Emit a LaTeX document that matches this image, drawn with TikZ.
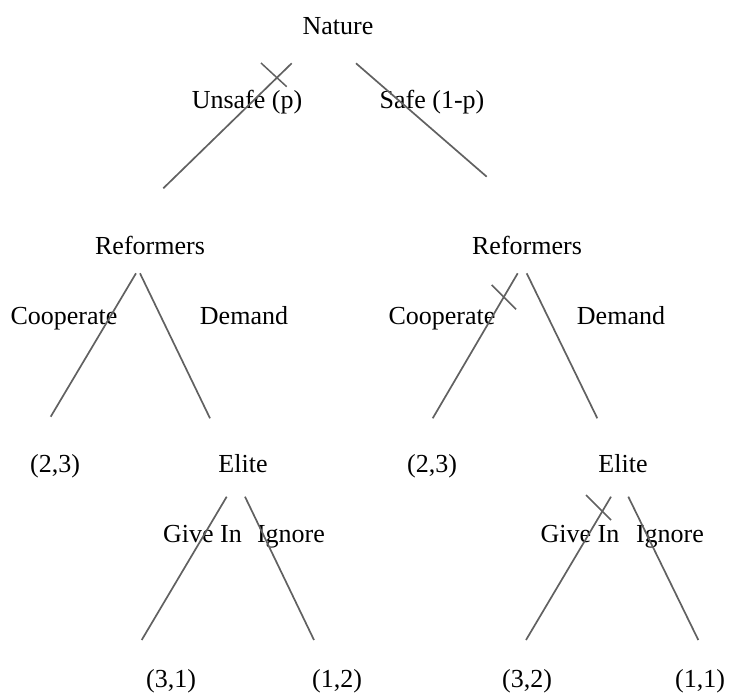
\documentclass[tikz,border=0pt]{standalone}
\usepackage{fontspec}
\setmainfont{Liberation Serif}
\begin{document}
\begin{tikzpicture}[x=1pt,y=-1pt,
  lbl/.style={anchor=base,inner sep=0pt,font=\fontsize{26}{30}\selectfont},
  branch/.style={draw=black!62,line width=1.7pt},
  cut/.style={draw=black!62,line width=1.5pt}]
\useasboundingbox (0,0) rectangle (745,693);
% labels
\node[lbl] (nature) at (338,35) {Nature};
\node[lbl] (unsafe) at (247,108) {Unsafe (p)};
\node[lbl] (safe) at (432,108) {Safe (1-p)};
\node[lbl] (refL) at (150,254) {Reformers};
\node[lbl] (refR) at (527,254) {Reformers};
\node[lbl] (coopL) at (64,324) {Cooperate};
\node[lbl] (demL) at (244,324) {Demand};
\node[lbl] (coopR) at (442,324) {Cooperate};
\node[lbl] (demR) at (621,324) {Demand};
\node[lbl] (pA) at (55,472) {(2,3)};
\node[lbl] (eliteL) at (243,472) {Elite};
\node[lbl] (pB) at (432,472) {(2,3)};
\node[lbl] (eliteR) at (623,472) {Elite};
\node[lbl] (giveL) at (202.5,542) {Give In};
\node[lbl] (ignL) at (291,542) {Ignore};
\node[lbl] (giveR) at (580,542) {Give In};
\node[lbl] (ignR) at (670,542) {Ignore};
\node[lbl] (pC) at (171,687) {(3,1)};
\node[lbl] (pD) at (337,687) {(1,2)};
\node[lbl] (pE) at (527,687) {(3,2)};
\node[lbl] (pF) at (700,687) {\underline{(1,1)}};
% branch end points
\coordinate (u1) at (291.7,63.3); \coordinate (u2) at (163.3,188.3);
\coordinate (s1) at (356,63.3);   \coordinate (s2) at (486.7,176.7);
\coordinate (xu1) at (261,63);    \coordinate (xu2) at (286.7,86.7);
\coordinate (cl1) at (136,273.3); \coordinate (cl2) at (50.7,416.7);
\coordinate (dl1) at (140,273.3); \coordinate (dl2) at (210,418.3);
\coordinate (cr1) at (517.7,273.3); \coordinate (cr2) at (432.7,418.3);
\coordinate (dr1) at (526.7,273.3); \coordinate (dr2) at (597.3,418.3);
\coordinate (xc1) at (491.7,285); \coordinate (xc2) at (516,309.3);
\coordinate (gl1) at (226.7,496.7); \coordinate (gl2) at (141.7,640);
\coordinate (il1) at (245,496.7); \coordinate (il2) at (314,640);
\coordinate (gr1) at (611,496.7); \coordinate (gr2) at (526,640);
\coordinate (ir1) at (628.3,496.7); \coordinate (ir2) at (698.3,640);
\coordinate (xg1) at (586,495); \coordinate (xg2) at (611,520);
% branches
\draw[branch] (u1) -- (u2);
\draw[branch] (s1) -- (s2);
\draw[cut] (xu1) -- (xu2);
\draw[branch] (cl1) -- (cl2);
\draw[branch] (dl1) -- (dl2);
\draw[branch] (cr1) -- (cr2);
\draw[branch] (dr1) -- (dr2);
\draw[cut] (xc1) -- (xc2);
\draw[branch] (gl1) -- (gl2);
\draw[branch] (il1) -- (il2);
\draw[branch] (gr1) -- (gr2);
\draw[branch] (ir1) -- (ir2);
\draw[cut] (xg1) -- (xg2);
\end{tikzpicture}
\end{document}
